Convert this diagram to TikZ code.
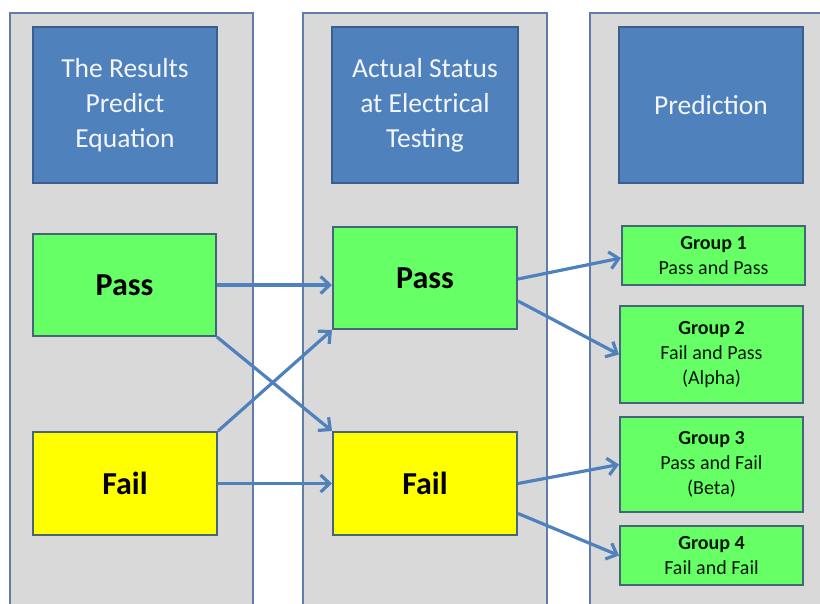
\documentclass[tikz,border=0pt]{standalone}
\usepackage{fontspec}
\setmainfont{Carlito}
\usetikzlibrary{arrows.meta}
\definecolor{panelfill}{HTML}{D9D9D9}
\definecolor{paneldraw}{HTML}{5F7DA8}
\definecolor{headfill}{HTML}{4F81BD}
\definecolor{headdraw}{HTML}{3A5F8C}
\definecolor{passfill}{HTML}{66FF66}
\definecolor{failfill}{HTML}{FFFF00}
\definecolor{boxdraw}{HTML}{46647A}
\definecolor{arrowcol}{HTML}{4F81BD}
\definecolor{headtext}{HTML}{F2F5FA}
\begin{document}
\begin{tikzpicture}[x=1pt,y=-1pt,
  panel/.style={fill=panelfill,draw=paneldraw,line width=2.5pt},
  headbox/.style={rectangle,fill=headfill,draw=headdraw,line width=2pt,minimum width=184pt,minimum height=156pt,align=center,text=headtext,font=\fontsize{27.5}{35}\selectfont,inner sep=0pt},
  statebox/.style={rectangle,draw=boxdraw,line width=2pt,minimum width=184pt,minimum height=102pt,font=\bfseries\fontsize{32}{38}\selectfont,text=black,inner sep=0pt},
  groupbox/.style={rectangle,fill=passfill,draw=boxdraw,line width=2pt,minimum width=183pt,align=center,font=\fontsize{20}{25}\selectfont,text=black!85!green!60!black,inner sep=0pt},
  conn/.style={draw=arrowcol,line width=3.2pt,-{Straight Barb[length=9pt,width=17pt,line width=3.2pt]}}
]
\useasboundingbox (0,0) rectangle (820,603);
\fill[white] (0,0) rectangle (820,603);
\clip (0,0) rectangle (820,603);
% panels
\draw[panel] (10,13) rectangle (253,620);
\draw[panel] (303,13) rectangle (547,620);
\draw[panel] (590,13) rectangle (840,620);
% headers
\node[headbox] (h1) at (125,105) {The Results\\Predict\\Equation};
\node[headbox,minimum width=186pt] (h2) at (425,105) {Actual Status\\at Electrical\\Testing};
\node[headbox] (h3) at (711,105) {Prediction};
% state boxes
\node[statebox,fill=passfill,minimum width=183pt] (p1) at (124.5,285) {Pass};
\node[statebox,fill=failfill,minimum height=103pt] (f1) at (125,483.5) {Fail};
\node[statebox,fill=passfill] (p2) at (425,278) {Pass};
\node[statebox,fill=failfill,minimum height=103pt] (f2) at (425,483.5) {Fail};
% groups
\node[groupbox,minimum height=59pt] (g1) at (713.5,255.5) {\textbf{Group 1}\\Pass and Pass};
\node[groupbox,minimum height=97pt] (g2) at (711.5,354.5) {\textbf{Group 2}\\Fail and Pass\\(Alpha)};
\node[groupbox,minimum height=95pt] (g3) at (711.5,464.5) {\textbf{Group 3}\\Pass and Fail\\(Beta)};
\node[groupbox,minimum height=59pt] (g4) at (711.5,555.5) {\textbf{Group 4}\\Fail and Fail};
% connectors
\draw[conn] (p1.east) -- (p1.east -| p2.west);
\draw[conn] (f1.east) -- (f2.west);
\draw[conn] (p1.south east) -- (f2.north west);
\draw[conn] (f1.north east) -- (p2.south west);
\draw[conn] ([yshift=-1pt]p2.east) -- ([yshift=-2.5pt]g1.west);
\draw[conn] ([yshift=-23pt]p2.east) -- (g2.west);
\draw[conn] (f2.east) -- (g3.west);
\draw[conn] ([yshift=-30pt]f2.east) -- (g4.west);
\end{tikzpicture}
\end{document}
